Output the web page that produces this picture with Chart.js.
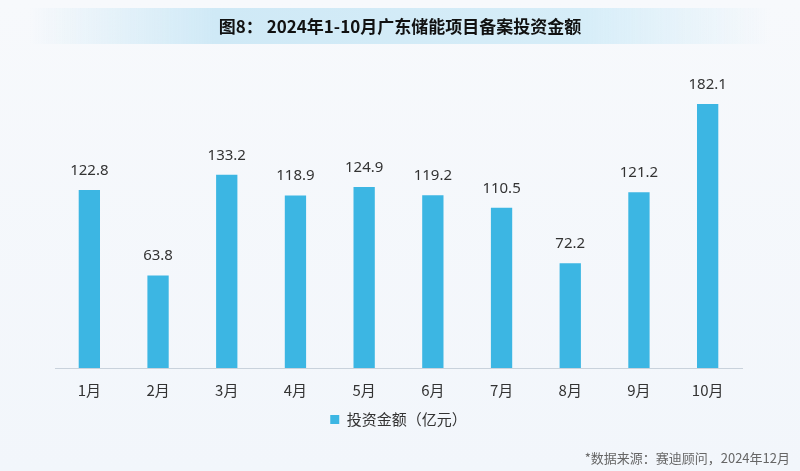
<!DOCTYPE html>
<html lang="zh">
<head>
    <meta charset="UTF-8">
    <title>广东储能项目备案投资金额</title>
    <script src="https://cdn.jsdelivr.net/npm/chart.js"></script>
    <style>
        body {
            margin: 0;
            padding: 0;
            width: 800px;
            height: 471px;
            overflow: hidden;
            background: linear-gradient(180deg, #f7f9fc 0%, #f2f6fb 100%);
            font-family: "Noto Sans CJK SC", "Noto Sans", sans-serif;
            position: relative;
        }

        /* title band */
        .title {
            position: absolute;
            left: 30px;
            top: 8px;
            width: 740px;
            height: 36px;
            line-height: 36px;
            text-align: center;
            font-size: 17px;
            font-weight: bold;
            color: #111;
            background: linear-gradient(90deg, rgba(220,238,248,0) 0%, #cfe9f6 25%, #d6edf8 75%, rgba(220,238,248,0) 100%);
        }

        .chart-box {
            position: absolute;
            left: 0;
            top: 0;
            width: 800px;
            height: 471px;
        }

        .source {
            position: absolute;
            right: 10px;
            top: 448px;
            font-size: 13px;
            color: #666;
        }
    </style>
</head>
<body>
    <div class="chart-box"><canvas id="barChart"></canvas></div>
    <div class="title">图8：&nbsp;2024年1-10月广东储能项目备案投资金额</div>
    <div class="source">*数据来源：赛迪顾问，2024年12月</div>

    <script>
        const months = ['1月', '2月', '3月', '4月', '5月', '6月', '7月', '8月', '9月', '10月'];
        const amounts = [122.8, 63.8, 133.2, 118.9, 124.9, 119.2, 110.5, 72.2, 121.2, 182.1];
        const seriesName = '投资金额（亿元）';

        // value labels above each bar
        const valueLabels = {
            id: 'valueLabels',
            afterDatasetsDraw(chart) {
                const ctx = chart.ctx;
                const meta = chart.getDatasetMeta(0);
                ctx.save();
                ctx.font = '15px "Noto Sans", "Noto Sans CJK SC", sans-serif';
                ctx.fillStyle = '#333';
                ctx.textAlign = 'center';
                ctx.textBaseline = 'bottom';
                meta.data.forEach((bar, i) => {
                    ctx.fillText(amounts[i].toFixed(1), bar.x, bar.y - 12);
                });
                ctx.restore();
            }
        };

        const ctx = document.getElementById('barChart').getContext('2d');
        new Chart(ctx, {
            type: 'bar',
            data: {
                labels: months,
                datasets: [{
                    label: seriesName,
                    data: amounts,
                    backgroundColor: '#3cb6e3',
                    barPercentage: 0.31,
                    categoryPercentage: 1.0
                }]
            },
            options: {
                responsive: true,
                maintainAspectRatio: false,
                animation: false,
                layout: {
                    padding: { left: 55, right: 58, top: 78, bottom: 34 }
                },
                scales: {
                    x: {
                        grid: { display: false },
                        border: { display: true, color: '#c9d2dc', width: 1 },
                        ticks: {
                            color: '#333',
                            font: { size: 15, family: '"Noto Sans CJK SC", sans-serif' },
                            padding: 5
                        }
                    },
                    y: {
                        display: false,
                        min: 0,
                        max: 200
                    }
                },
                plugins: {
                    legend: {
                        position: 'bottom',
                        labels: {
                            color: '#333',
                            boxWidth: 9,
                            boxHeight: 9,
                            padding: 8,
                            font: { size: 15, family: '"Noto Sans CJK SC", sans-serif' }
                        }
                    },
                    tooltip: { enabled: false }
                }
            },
            plugins: [valueLabels]
        });
    </script>
</body>
</html>
